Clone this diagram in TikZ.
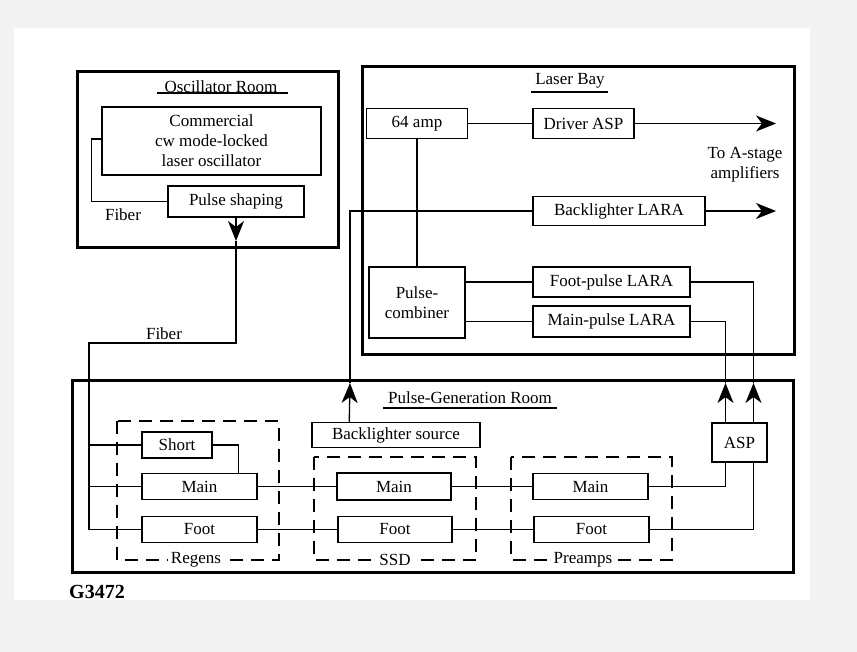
\documentclass[tikz,border=0pt]{standalone}
\usepackage{fontspec}
\setmainfont{Liberation Serif}
\usetikzlibrary{arrows.meta,calc}
\begin{document}
\begin{tikzpicture}[x=1pt,y=-1pt, font=\fontsize{17}{20}\selectfont,
 room/.style={draw, line width=3pt, inner sep=0pt},
 box/.style={draw, line width=1.5pt, inner sep=0pt, align=center, fill=white},
 grp/.style={draw, line width=1.3pt, dash pattern=on 13pt off 8pt},
 conn/.style={line width=1.3pt},
 tip/.style={-{Stealth[length=20pt,width=16pt,inset=6pt]}},
 lbl/.style={inner sep=1pt, align=center},
 glbl/.style={fill=white, inner sep=3pt}
]
\useasboundingbox (0,0) rectangle (857,652);
\fill[gray!10] (0,0) rectangle (857,652);
\fill[white] (14,28) rectangle (810,600);

% rooms
\node[room, minimum width=261pt, minimum height=176pt] (oscroom) at (207.5,160) {};
\node[room, minimum width=432pt, minimum height=288pt] (laserbay) at (578,211) {};
\node[room, minimum width=721pt, minimum height=192pt] (pgr) at (432.5,476) {};

% room titles
\node[lbl] (osct) at (221,87) {Oscillator Room};
\draw[conn] (157,93) -- (288,93);
\node[lbl] (lbt) at (570,81) {Laser Bay};
\draw[conn] (531,92) -- (608,92);
\node[lbl] (pgt) at (470,398) {Pulse-Generation Room};
\draw[conn] (383,408) -- (557,408);

% dashed groups
\draw[grp] (117,421) rectangle (279,560);
\draw[grp] (314,457) rectangle (476,560);
\draw[grp] (511,457) rectangle (672,560);
\node[glbl] (regl) at (196,560) {Regens};
\node[glbl] (ssdl) at (395,560) {SSD};
\node[glbl] (prel) at (583,560) {Preamps};

% oscillator room boxes
\node[box, minimum width=219pt, minimum height=68pt] (comm) at (211.5,141) {Commercial\\cw mode-locked\\laser oscillator};
\node[box, minimum width=136pt, minimum height=31pt] (pshape) at (236,201.5) {Pulse shaping};
\node[lbl] (fib1) at (123,215) {Fiber};

% laser bay boxes
\node[box, minimum width=101pt, minimum height=30pt] (amp) at (417,123.5) {64 amp};
\node[box, minimum width=101pt, minimum height=30pt] (dasp) at (583.5,123.5) {Driver ASP};
\node[box, minimum width=172pt, minimum height=29pt] (blara) at (619,211) {Backlighter LARA};
\node[box, minimum width=96pt, minimum height=71pt] (pcomb) at (417,302.5) {Pulse-\\combiner};
\node[box, minimum width=157pt, minimum height=30pt] (fplara) at (611.5,282) {Foot-pulse LARA};
\node[box, minimum width=157pt, minimum height=31pt] (mplara) at (611.5,321.5) {Main-pulse LARA};
\node[lbl] (toA) at (745,165) {To A-stage\\amplifiers};
\coordinate (endA) at (776,123.5);
\coordinate (endB) at (776,211);

% pulse generation room boxes
\node[box, minimum width=168pt, minimum height=25pt] (blsrc) at (396,435) {Backlighter source};
\node[box, minimum width=55pt, minimum height=39pt] (asp) at (739.5,442.5) {ASP};
\node[box, minimum width=70pt, minimum height=26pt] (short) at (177,445) {Short};
\node[box, minimum width=115pt, minimum height=26pt] (rmain) at (199.5,486.5) {Main};
\node[box, minimum width=115pt, minimum height=26pt] (rfoot) at (199.5,529.5) {Foot};
\node[box, minimum width=114pt, minimum height=27pt] (smain) at (394,486.5) {Main};
\node[box, minimum width=114pt, minimum height=26pt] (sfoot) at (395,529.5) {Foot};
\node[box, minimum width=115pt, minimum height=26pt] (pmain) at (590.5,486.5) {Main};
\node[box, minimum width=115pt, minimum height=26pt] (pfoot) at (591.5,529.5) {Foot};
\node[lbl] (fib2) at (164,334) {Fiber};
\node[font=\bfseries\fontsize{20}{22}\selectfont, inner sep=0pt, anchor=west] (gid) at (69,592) {G3472};

% oscillator connections
\draw[conn] (comm.west |- 0,139) -- ++(-10,0) |- (pshape.west);
\coordinate (oscarr) at (236,241);
\coordinate (fturn) at (236,343);
\coordinate (fleft) at (89,343);
\draw[conn,tip] (pshape.south) -- (oscarr);
\draw[conn] (oscarr) -- (fturn) -- (fleft) |- (rfoot.west);
\draw[conn] (fleft |- short.west) -- (short.west);
\draw[conn] (fleft |- rmain.west) -- (rmain.west);
\draw[conn] (short.east) -| ($(rmain.north east)+(-19,0)$);

% chain connections
\draw[conn] (rmain.east) -- (smain.west);
\draw[conn] (smain.east) -- (pmain.west);
\draw[conn] (rfoot.east) -- (sfoot.west);
\draw[conn] (sfoot.east) -- (pfoot.west);
\draw[conn] (pmain.east) -| ($(asp.south)+(-14,0)$);
\draw[conn] (pfoot.east) -| ($(asp.south)+(14,0)$);

% ASP up to LARAs
\coordinate (aspL) at ($(asp.north)+(-14,0)$);
\coordinate (aspR) at ($(asp.north)+(14,0)$);
\coordinate (arrL) at (725.5,383);
\coordinate (arrR) at (753.5,383);
\draw[conn,tip] (aspL) -- (arrL);
\draw[conn,tip] (aspR) -- (arrR);
\draw[conn] (arrL) |- (mplara.east);
\draw[conn] (arrR) |- (fplara.east);

% backlighter
\coordinate (blbot) at ($(blsrc.north west)+(38,0)$);
\coordinate (blarr) at (350,383);
\draw[conn,tip] (blbot) -- (blarr);
\draw[conn] (blarr) |- (blara.west);

% laser bay connections
\draw[conn] (amp.east) -- (dasp.west);
\draw[conn,tip] (dasp.east) -- (endA);
\draw[conn,tip] (blara.east) -- (endB);
\draw[conn] (amp.south) -- (pcomb.north);
\draw[conn] (pcomb.east |- fplara.west) -- (fplara.west);
\draw[conn] (pcomb.east |- mplara.west) -- (mplara.west);
\end{tikzpicture}
\end{document}
